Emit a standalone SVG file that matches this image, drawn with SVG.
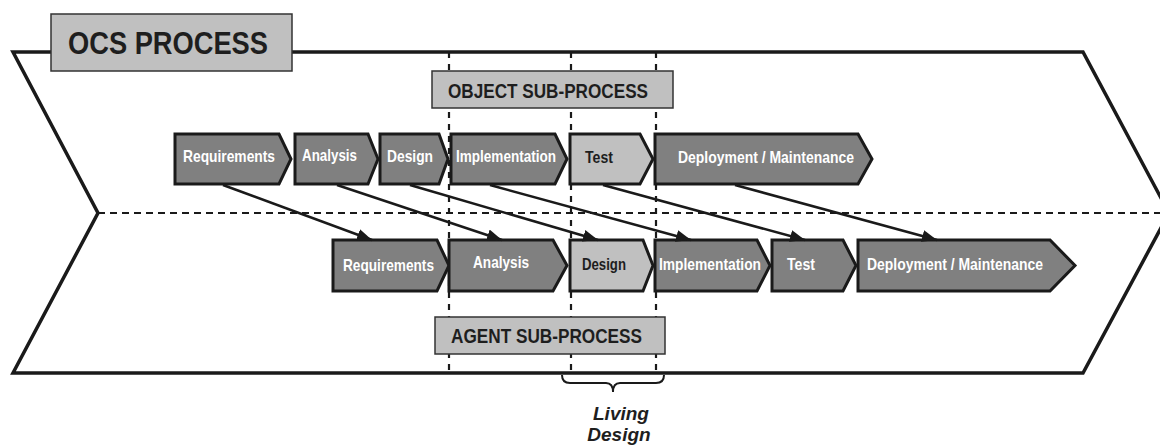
<svg xmlns="http://www.w3.org/2000/svg" width="1160" height="448" viewBox="0 0 1160 448">
<style>
.outer{fill:none;stroke:#1a1a1a;stroke-width:3.5;stroke-linejoin:miter}
.dash{fill:none;stroke:#1a1a1a;stroke-width:2.2;stroke-dasharray:7 5}
.vdash{fill:none;stroke:#1a1a1a;stroke-width:2.2;stroke-dasharray:6 6}
.box{fill:#c0c0c0;stroke:#333;stroke-width:1.5}
.boxt{font-family:"Liberation Sans",Arial,sans-serif;font-weight:bold;fill:#1e1e1e}
.dk{fill:#808080;stroke:#1a1a1a;stroke-width:3;stroke-linejoin:miter}
.lt{fill:#c0c0c0;stroke:#1a1a1a;stroke-width:3;stroke-linejoin:miter}
.wt{font-family:"Liberation Sans",Arial,sans-serif;font-weight:bold;font-size:17px;fill:#ffffff}
.bt{font-family:"Liberation Sans",Arial,sans-serif;font-weight:bold;font-size:17px;fill:#1e1e1e}
.conn{stroke:#1a1a1a;stroke-width:2.5;fill:none}
.it{font-family:"Liberation Sans",Arial,sans-serif;font-weight:bold;font-style:italic;font-size:19px;fill:#1e1e1e}
</style>
<defs>
<marker id="ah" markerUnits="userSpaceOnUse" markerWidth="16" markerHeight="12" refX="15" refY="6" orient="auto">
<path d="M0,0 L15,6 L0,12 Z" fill="#1a1a1a"/>
</marker>
</defs>

<g id="background">
<polygon class="outer" points="13,52 1083,52 1169,213 1083,373 13,373 98,213"/>
<line class="dash" x1="98" y1="213" x2="1160" y2="213"/>
<line class="vdash" x1="449" y1="52" x2="449" y2="373"/>
<line class="vdash" x1="571" y1="52" x2="571" y2="373"/>
<line class="vdash" x1="656" y1="52" x2="656" y2="373"/>
</g>

<g id="ocs-process">
<rect class="box" x="51" y="14" width="241" height="57"/>
<text class="boxt" x="68" y="54" font-size="31" textLength="200" lengthAdjust="spacingAndGlyphs">OCS PROCESS</text>
</g>

<g id="object-sub-process">
<rect class="box" x="432" y="71" width="241" height="37"/>
<text class="boxt" x="448" y="98" font-size="21" textLength="200" lengthAdjust="spacingAndGlyphs">OBJECT SUB-PROCESS</text>
</g>

<g id="agent-sub-process">
<rect class="box" x="435" y="317" width="230" height="37"/>
<text class="boxt" x="451" y="343" font-size="21" textLength="191" lengthAdjust="spacingAndGlyphs">AGENT SUB-PROCESS</text>
</g>

<g id="obj-requirements">
<polygon class="dk" points="175,134 279,134 291,159 279,184 175,184"/>
<text class="wt" x="183" y="162" textLength="92" lengthAdjust="spacingAndGlyphs">Requirements</text>
</g>
<g id="obj-analysis">
<polygon class="dk" points="295,134 368,134 378,159 368,184 295,184"/>
<text class="wt" x="302" y="161" textLength="55" lengthAdjust="spacingAndGlyphs">Analysis</text>
</g>
<g id="obj-design">
<polygon class="dk" points="380,134 439,134 448,159 439,184 380,184"/>
<text class="wt" x="387" y="162" textLength="46" lengthAdjust="spacingAndGlyphs">Design</text>
</g>
<g id="obj-implementation">
<polygon class="dk" points="451,134 555,134 567,159 555,184 451,184"/>
<text class="wt" x="456" y="162" textLength="100" lengthAdjust="spacingAndGlyphs">Implementation</text>
</g>
<g id="obj-test">
<polygon class="lt" points="570,134 640,134 653,159 640,184 570,184"/>
<text class="bt" x="585" y="163" textLength="28" lengthAdjust="spacingAndGlyphs">Test</text>
</g>
<g id="obj-deployment">
<polygon class="dk" points="655,134 858,134 872,159 858,184 655,184"/>
<text class="wt" x="678" y="163" textLength="176" lengthAdjust="spacingAndGlyphs">Deployment / Maintenance</text>
</g>

<g id="agt-requirements">
<polygon class="dk" points="333,240 437,240 449,265.5 437,291 333,291"/>
<text class="wt" x="343" y="271" textLength="91" lengthAdjust="spacingAndGlyphs">Requirements</text>
</g>
<g id="agt-analysis">
<polygon class="dk" points="449,240 553,240 567,265.5 553,291 449,291"/>
<text class="wt" x="473" y="268" textLength="56" lengthAdjust="spacingAndGlyphs">Analysis</text>
</g>
<g id="agt-design">
<polygon class="lt" points="570,240 643,240 653,265.5 643,291 570,291"/>
<text class="bt" x="582" y="270" textLength="44" lengthAdjust="spacingAndGlyphs">Design</text>
</g>
<g id="agt-implementation">
<polygon class="dk" points="655,240 757,240 770,265.5 757,291 655,291"/>
<text class="wt" x="659" y="270" textLength="102" lengthAdjust="spacingAndGlyphs">Implementation</text>
</g>
<g id="agt-test">
<polygon class="dk" points="772,240 843,240 856,265.5 843,291 772,291"/>
<text class="wt" x="787" y="270" textLength="28" lengthAdjust="spacingAndGlyphs">Test</text>
</g>
<g id="agt-deployment">
<polygon class="dk" points="858,240 1050,240 1075,265.5 1050,291 858,291"/>
<text class="wt" x="867" y="270" textLength="176" lengthAdjust="spacingAndGlyphs">Deployment / Maintenance</text>
</g>

<g id="connectors">
<line class="conn" x1="223" y1="185" x2="372" y2="240" marker-end="url(#ah)"/>
<line class="conn" x1="337" y1="185" x2="502" y2="240" marker-end="url(#ah)"/>
<line class="conn" x1="410" y1="185" x2="598" y2="240" marker-end="url(#ah)"/>
<line class="conn" x1="490" y1="185" x2="691" y2="240" marker-end="url(#ah)"/>
<line class="conn" x1="603" y1="185" x2="805" y2="240" marker-end="url(#ah)"/>
<line class="conn" x1="735" y1="185" x2="937" y2="240" marker-end="url(#ah)"/>
</g>

<g id="living-design">
<path d="M562,375 Q562,383 570,383 L606,383 Q613,383 613,392 Q613,383 620,383 L656,383 Q664,383 664,375" fill="none" stroke="#1a1a1a" stroke-width="2"/>
<text class="it" x="621" y="420" text-anchor="middle">Living</text>
<text class="it" x="619" y="441" text-anchor="middle">Design</text>
</g>
</svg>
